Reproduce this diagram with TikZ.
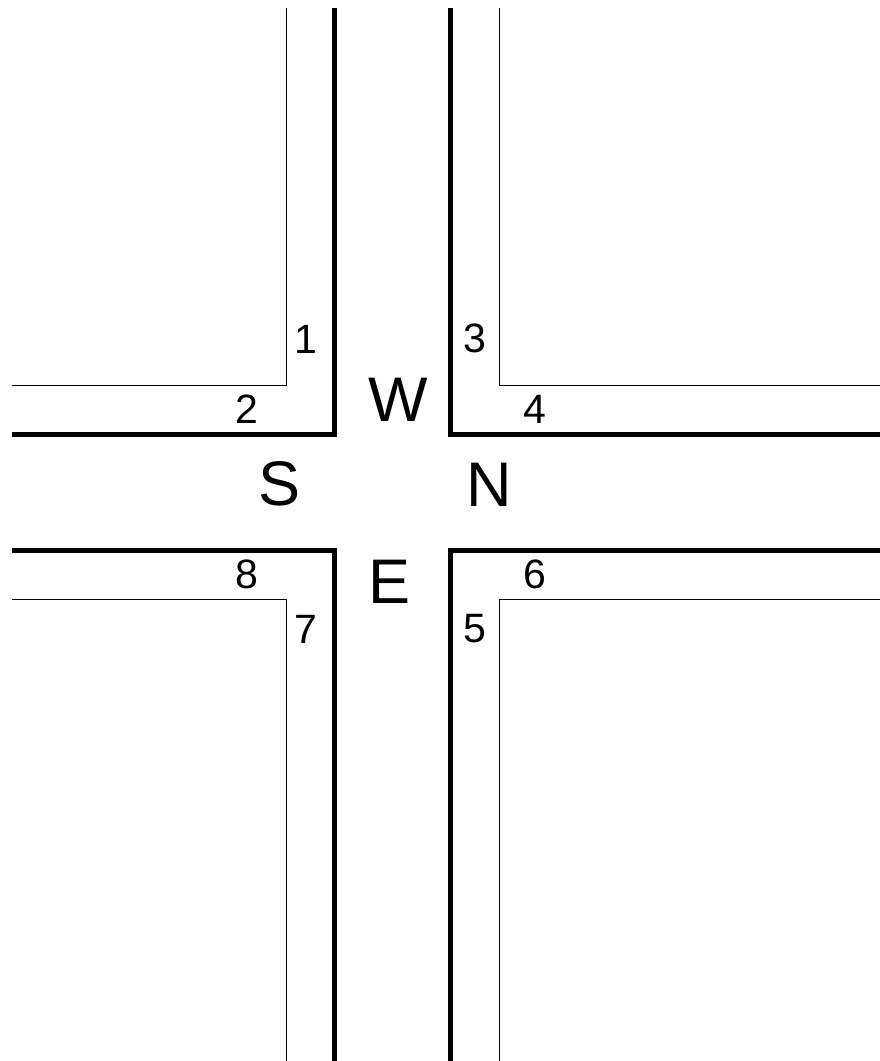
\documentclass[tikz,border=0pt]{standalone}
\usepackage{fontspec}
\setmainfont{Liberation Sans}
\begin{document}
\begin{tikzpicture}[x=1pt,y=-1pt,
  thickwall/.style={line width=5pt,line join=miter},
  thinwall/.style={line width=0.9pt,line join=miter},
  num/.style={inner sep=0pt,font=\fontsize{41}{41}\selectfont},
  dir/.style={inner sep=0pt,font=\fontsize{63}{63}\selectfont}]
\useasboundingbox (0,0) rectangle (880,1061);
% top-left
\draw[thinwall] (286,8) -- (286,385) -- (12,385);
\draw[thickwall] (334,8) -- (334,434) -- (12,434);
% top-right
\draw[thickwall] (450,8) -- (450,434) -- (880,434);
\draw[thinwall] (499,8) -- (499,385) -- (880,385);
% bottom-left
\draw[thickwall] (12,550) -- (334,550) -- (334,1061);
\draw[thinwall] (12,599) -- (286,599) -- (286,1061);
% bottom-right
\draw[thickwall] (880,550) -- (450,550) -- (450,1061);
\draw[thinwall] (880,599) -- (499,599) -- (499,1061);
% numbers
\node[num] (n1) at (306,339) {1};
\node[num] (n2) at (247,409) {2};
\node[num] (n3) at (475,338) {3};
\node[num] (n4) at (535,409) {4};
\node[num] (n5) at (475,629) {5};
\node[num] (n6) at (535,574) {6};
\node[num] (n7) at (305.5,629) {7};
\node[num] (n8) at (247,574) {8};
% directions
\node[dir] (W) at (398,399.5) {W};
\node[dir] (S) at (279.5,484) {S};
\node[dir] (N) at (489,485) {N};
\node[dir] (E) at (389.5,582) {E};
\end{tikzpicture}
\end{document}
